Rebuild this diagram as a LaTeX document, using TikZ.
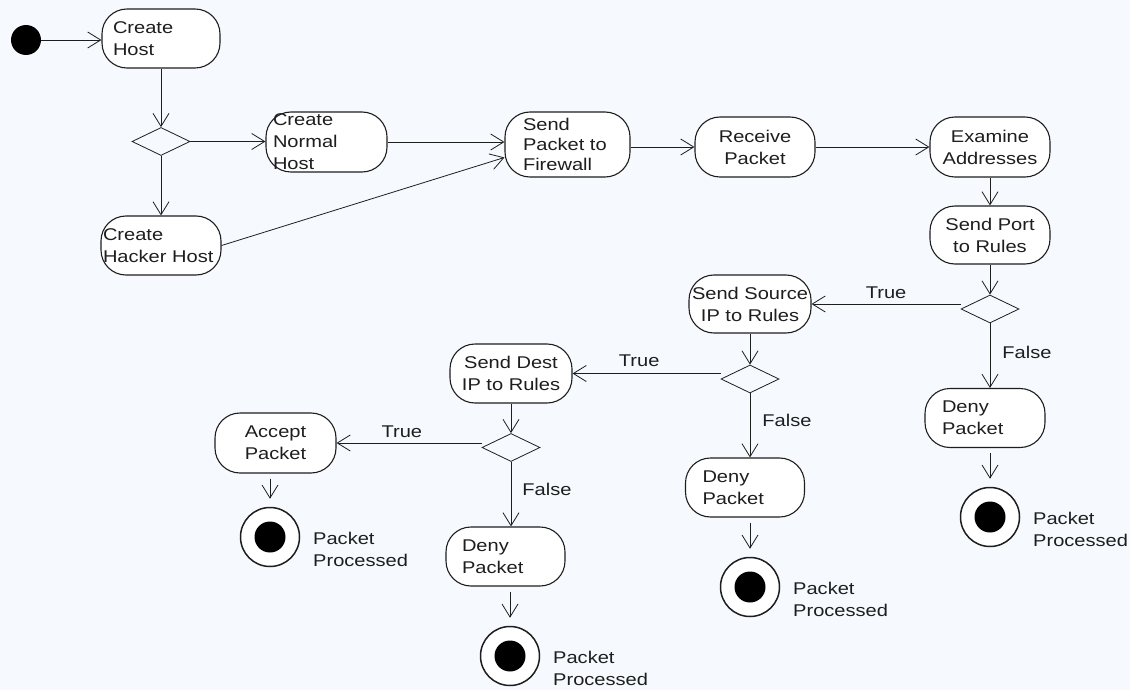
\documentclass[tikz,border=0pt]{standalone}
\usepackage{fontspec}
\setmainfont{Liberation Sans}[FakeStretch=1.18]
\usetikzlibrary{shapes.geometric, arrows.meta, calc}
\definecolor{ink}{HTML}{1E1E1E}
\definecolor{paper}{HTML}{F6FAFE}

\begin{document}
\begin{tikzpicture}[x=1pt, y=-1pt,
  every node/.style={font=\fontsize{17}{22}\selectfont, text=ink},
  act/.style={draw=ink, line width=1.1pt, fill=white, rounded corners=25pt,
    minimum width=120pt, minimum height=59pt, inner ysep=0pt},
  lefttxt/.style 2 args={align=left, inner xsep=#1, text width=#2},
  midtxt/.style={align=center, inner xsep=1pt},
  dec/.style={diamond, draw=ink, line width=0.8pt, minimum width=58pt,
    minimum height=28pt, inner sep=0pt},
  startnode/.style={circle, fill=black, minimum size=30pt, inner sep=0pt},
  endnode/.style={circle, draw=ink, line width=1.5pt, fill=white,
    minimum size=59pt, inner sep=0pt,
    path picture={\fill[black] (path picture bounding box.center) circle (15.5pt);}},
  flow/.style={draw=ink, line width=0.8pt, -{Straight Barb[length=13pt,width=16pt]}},
  tail/.style={shorten <=5pt, shorten >=8pt},
  guard/.style={inner sep=0pt},
  caption/.style={anchor=west, align=left, inner sep=0pt}
]
\useasboundingbox[fill=paper] (0,0) rectangle (1130,690);

% host creation
\node[startnode] (start) at (26,40) {};
\node[act, minimum width=118pt, lefttxt={11pt}{96pt}] (ch) at (161,38.5) {Create\\Host};
\node[dec] (d1) at (161,141.5) {};
\node[act, minimum width=121pt, minimum height=60pt, lefttxt={7pt}{107pt}] (nh) at (326.5,142) {Create\\Normal\\Host};
\node[act, lefttxt={2pt}{116pt}] (hh) at (161,245.5) {Create\\Hacker Host};

% packet path
\node[act, minimum width=125pt, minimum height=65pt, lefttxt={18pt}{89pt},
  font=\fontsize{17}{20}\selectfont] (spf) at (567.5,144.5) {Send\\Packet to\\Firewall};
\node[act, minimum height=60pt, midtxt] (rp) at (755,147) {Receive\\Packet};
\node[act, minimum height=60pt, midtxt] (ea) at (990,147) {Examine\\Addresses};
\node[act, minimum height=58pt, midtxt] (sp) at (990,235) {Send Port\\to Rules};
\node[dec] (d2) at (990,309) {};

% port check
\node[act, minimum width=122pt, minimum height=58pt, midtxt] (ss) at (750,304) {Send Source\\IP to Rules};
\node[act, lefttxt={17pt}{86pt}] (dr) at (985,418) {Deny\\Packet};
\node[endnode] (er) at (990,517) {};
\node[caption] (cr) at (1033,529) {Packet\\Processed};

% source IP check
\node[dec] (d3) at (750,379) {};
\node[act, minimum width=122pt, midtxt] (sd) at (511,373.5) {Send Dest\\IP to Rules};
\node[act, minimum width=119pt, lefttxt={17pt}{85pt}] (dm) at (745,487.5) {Deny\\Packet};
\node[endnode] (em) at (750,587) {};
\node[caption] (cm) at (793,599) {Packet\\Processed};

% destination IP check
\node[dec] (d4) at (511,447.5) {};
\node[act, minimum width=121pt, minimum height=60pt, midtxt] (ap) at (275.5,443) {Accept\\Packet};
\node[endnode] (e1) at (270,537) {};
\node[caption] (c1) at (313,549) {Packet\\Processed};
\node[act, minimum width=119pt, lefttxt={16pt}{87pt}] (dl) at (505.5,556.5) {Deny\\Packet};
\node[endnode] (el) at (510,656) {};
\node[caption] (cl) at (553,668) {Packet\\Processed};

% connectors
\draw[flow] (start.east) -- (start.east -| ch.west);
\draw[flow] (ch.south) -- (d1.north);
\draw[flow] (d1.east) -- (d1.east -| nh.west);
\draw[flow] (d1.south) -- (hh.north);
\draw[flow] (nh.east) -- (nh.east -| spf.west);
\draw[flow] (hh.east) -- ($(spf.west)+(0,13)$);
\draw[flow] ($(spf.east)+(0,2.5)$) -- ($(spf.east -| rp.west)+(0,2.5)$);
\draw[flow] (rp.east) -- (ea.west);
\draw[flow] (ea.south) -- (sp.north);
\draw[flow] (sp.south) -- (d2.north);

\draw[flow] (d2.west |- ss.east) -- (ss.east)
  node[guard, midway, above=5pt] (t2) {True};
\draw[flow] (d2.south) -- (d2.south |- dr.north)
  node[guard, pos=0.45, right=12pt] (f2) {False};
\draw[flow, tail] (dr.south -| er.north) -- (er.north);

\draw[flow] (ss.south) -- (d3.north);
\draw[flow] (d3.west |- sd.east) -- (sd.east)
  node[guard, pos=0.55, above=6pt] (t3) {True};
\draw[flow] (d3.south) -- (d3.south |- dm.north)
  node[guard, pos=0.42, right=12pt] (f3) {False};
\draw[flow, tail] (dm.south -| em.north) -- (em.north);

\draw[flow] (sd.south) -- (d4.north);
\draw[flow] (d4.west |- ap.east) -- (ap.east)
  node[guard, pos=0.55, above=5pt] (t4) {True};
\draw[flow] (d4.south) -- (d4.south |- dl.north)
  node[guard, pos=0.43, right=11pt] (f4) {False};
\draw[flow, tail] (dl.south -| el.north) -- (el.north);
\draw[flow, tail] (ap.south -| e1.north) -- (e1.north);
\end{tikzpicture}
\end{document}
